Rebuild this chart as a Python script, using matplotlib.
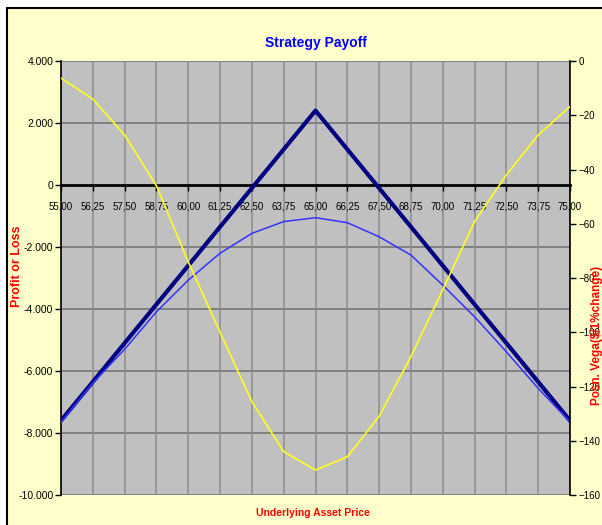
import matplotlib.pyplot as plt
from matplotlib.patches import Rectangle
from matplotlib.ticker import FuncFormatter

# underlying prices on the category axis
prices = [55.00, 56.25, 57.50, 58.75, 60.00, 61.25, 62.50, 63.75, 65.00,
          66.25, 67.50, 68.75, 70.00, 71.25, 72.50, 73.75, 75.00]
price_labels = [('%.2f' % p).replace('.', ',') for p in prices]

# profit / loss at expiration and today
payoff_exp = [-7600, -6350, -5100, -3850, -2600, -1350, -100, 1150, 2400,
              1150, -100, -1350, -2600, -3850, -5100, -6350, -7600]
payoff_now = [-7650, -6390, -5300, -4090, -3070, -2200, -1560, -1180, -1055,
              -1215, -1670, -2260, -3230, -4250, -5380, -6560, -7640]

# position vega ($ per 1% change)
vega = [-6.3, -14, -27.3, -46, -74, -100, -125.6, -144, -150.8,
        -145.9, -131, -109, -84.4, -59.2, -42, -27.3, -16.8]

fam = ['Liberation Sans', 'DejaVu Sans']
plt.rcParams['font.family'] = fam

fig = plt.figure(figsize=(6.02, 5.25), dpi=100)
fig.patch.set_facecolor('white')
fig.patches.append(Rectangle((7 / 602, -0.02), 1.0, 1 - 8 / 525 + 0.02,
                             transform=fig.transFigure, facecolor='#FFFFCC',
                             edgecolor='black', linewidth=1.5, zorder=-10))

ax = fig.add_axes([61 / 602, 1 - 495 / 525, 509 / 602, 434 / 525])
ax.set_facecolor('#C0C0C0')
xs = list(range(len(prices)))

ax.set_xlim(0, len(prices) - 1)
ax.set_ylim(-10000, 4000)
ax.set_yticks(range(-10000, 4001, 2000))
ax.yaxis.set_major_formatter(FuncFormatter(lambda v, p: f'{int(v):,}'.replace(',', '.')))
for v in range(-10000, 4001, 2000):
    if v != 0:
        ax.axhline(v, color='#808080', lw=1.4, zorder=1)
for i in xs:
    ax.axvline(i, color='#8C8C8C', lw=1.1, zorder=1)

ax.spines['bottom'].set_position(('data', 0))
ax.spines['bottom'].set_linewidth(2)
ax.spines['bottom'].set_zorder(3)
ax.spines['top'].set_visible(False)
ax.spines['right'].set_visible(False)
ax.spines['left'].set_linewidth(1.2)
ax.set_xticks(xs)
ax.set_xticklabels(price_labels)
ax.tick_params(axis='x', direction='out', length=4, width=1, pad=8, labelsize=7)
ax.tick_params(axis='y', direction='out', length=4, width=1, pad=1.5, labelsize=7.5)

ax.plot(xs, payoff_exp, color='#000080', lw=3.0, zorder=4)
ax.plot(xs, payoff_now, color='#3333FF', lw=1.1, zorder=4)

ax2 = ax.twinx()
ax2.set_ylim(-160, 0)
ax2.set_yticks(range(-160, 1, 20))
ax2.plot(xs, vega, color='#FFFF22', lw=1.2, zorder=3)
ax2.spines['right'].set_linewidth(1.2)
for s in ['top', 'left', 'bottom']:
    ax2.spines[s].set_visible(False)
ax2.tick_params(axis='y', direction='out', length=4, width=1, pad=2, labelsize=7)

fig.text(316 / 602, 1 - 43 / 525, 'Strategy Payoff', color='#0000FF',
         fontsize=10, fontweight='bold', ha='center', va='center')
fig.text(313 / 602, 1 - 513 / 525, 'Underlying Asset Price', color='#FF0000',
         fontsize=7.5, fontweight='bold', ha='center', va='center')
fig.text(17 / 602, 1 - 266 / 525, 'Profit or Loss', color='#FF0000', rotation=90,
         fontsize=9, fontweight='bold', ha='center', va='center')
fig.text(597 / 602, 1 - 335 / 525, 'Posn. Vega($/1%change)', color='#FF0000', rotation=90,
         fontsize=8.5, fontweight='bold', ha='center', va='center')

fig.savefig('out.png', dpi=100)
